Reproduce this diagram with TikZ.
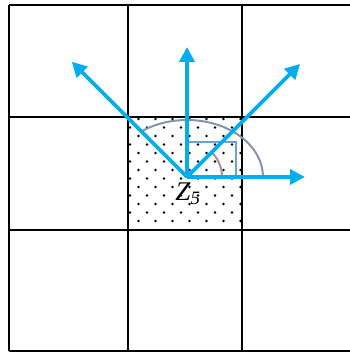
\documentclass[tikz,border=0pt]{standalone}
\usepackage{fontspec}
\setmainfont{Liberation Serif}
\usetikzlibrary{arrows.meta}
\definecolor{vecblue}{HTML}{00AEEF}
\definecolor{arcgray}{HTML}{8594AD}
\definecolor{anglegray}{HTML}{A4929E}
\definecolor{boxblue}{HTML}{6FA0D0}
\tikzset{
  gridline/.style={line width=2.6pt,black},
  vec/.style={line width=3.8pt,vecblue,-{Triangle[length=15pt,width=15pt]}},
}
\begin{document}
\begin{tikzpicture}[x=1pt,y=1pt]
            \useasboundingbox (-187,-176) rectangle (163,177);
            \coordinate (O) at (0,0);
            % dotted centre cell
            \foreach \r in {0,...,12} {
              \pgfmathsetmacro{\yy}{58-8.5*\r}
              \pgfmathsetmacro{\xs}{mod(\r,2)==0 ? -48.5 : -57}
              \foreach \c in {0,...,6} {
                \fill ({\xs+17*\c},\yy) circle (1.3);
              }
            }
            % grid
            \foreach \x in {-178,-59,55} \draw[gridline] (\x,-174)--(\x,172);
            \foreach \y in {172,60,-53,-174} \draw[gridline] (-178,\y)--(170,\y);
            % angle marks
            \draw[line width=2pt,arcgray] (76,0) arc[start angle=0,end angle=128,x radius=76,y radius=57];
            \draw[line width=2pt,boxblue] (O) rectangle (49,35);
            \draw[line width=2pt,anglegray] (35,0) arc[start angle=0,end angle=45,radius=35];
            % vectors
            \coordinate (E) at (0:118);
            \coordinate (NE) at (45:160);
            \coordinate (N) at (90:130);
            \coordinate (NW) at (135:163);
            \draw[vec] (O)--(E);
            \draw[vec] (O)--(NE);
            \draw[vec] (O)--(N);
            \draw[vec] (O)--(NW);
            \node[font=\fontsize{27}{31}\selectfont] (z5) at (1,-17) {\textit{Z}\textsubscript{\textit{5}}};
        \end{tikzpicture}
\end{document}
